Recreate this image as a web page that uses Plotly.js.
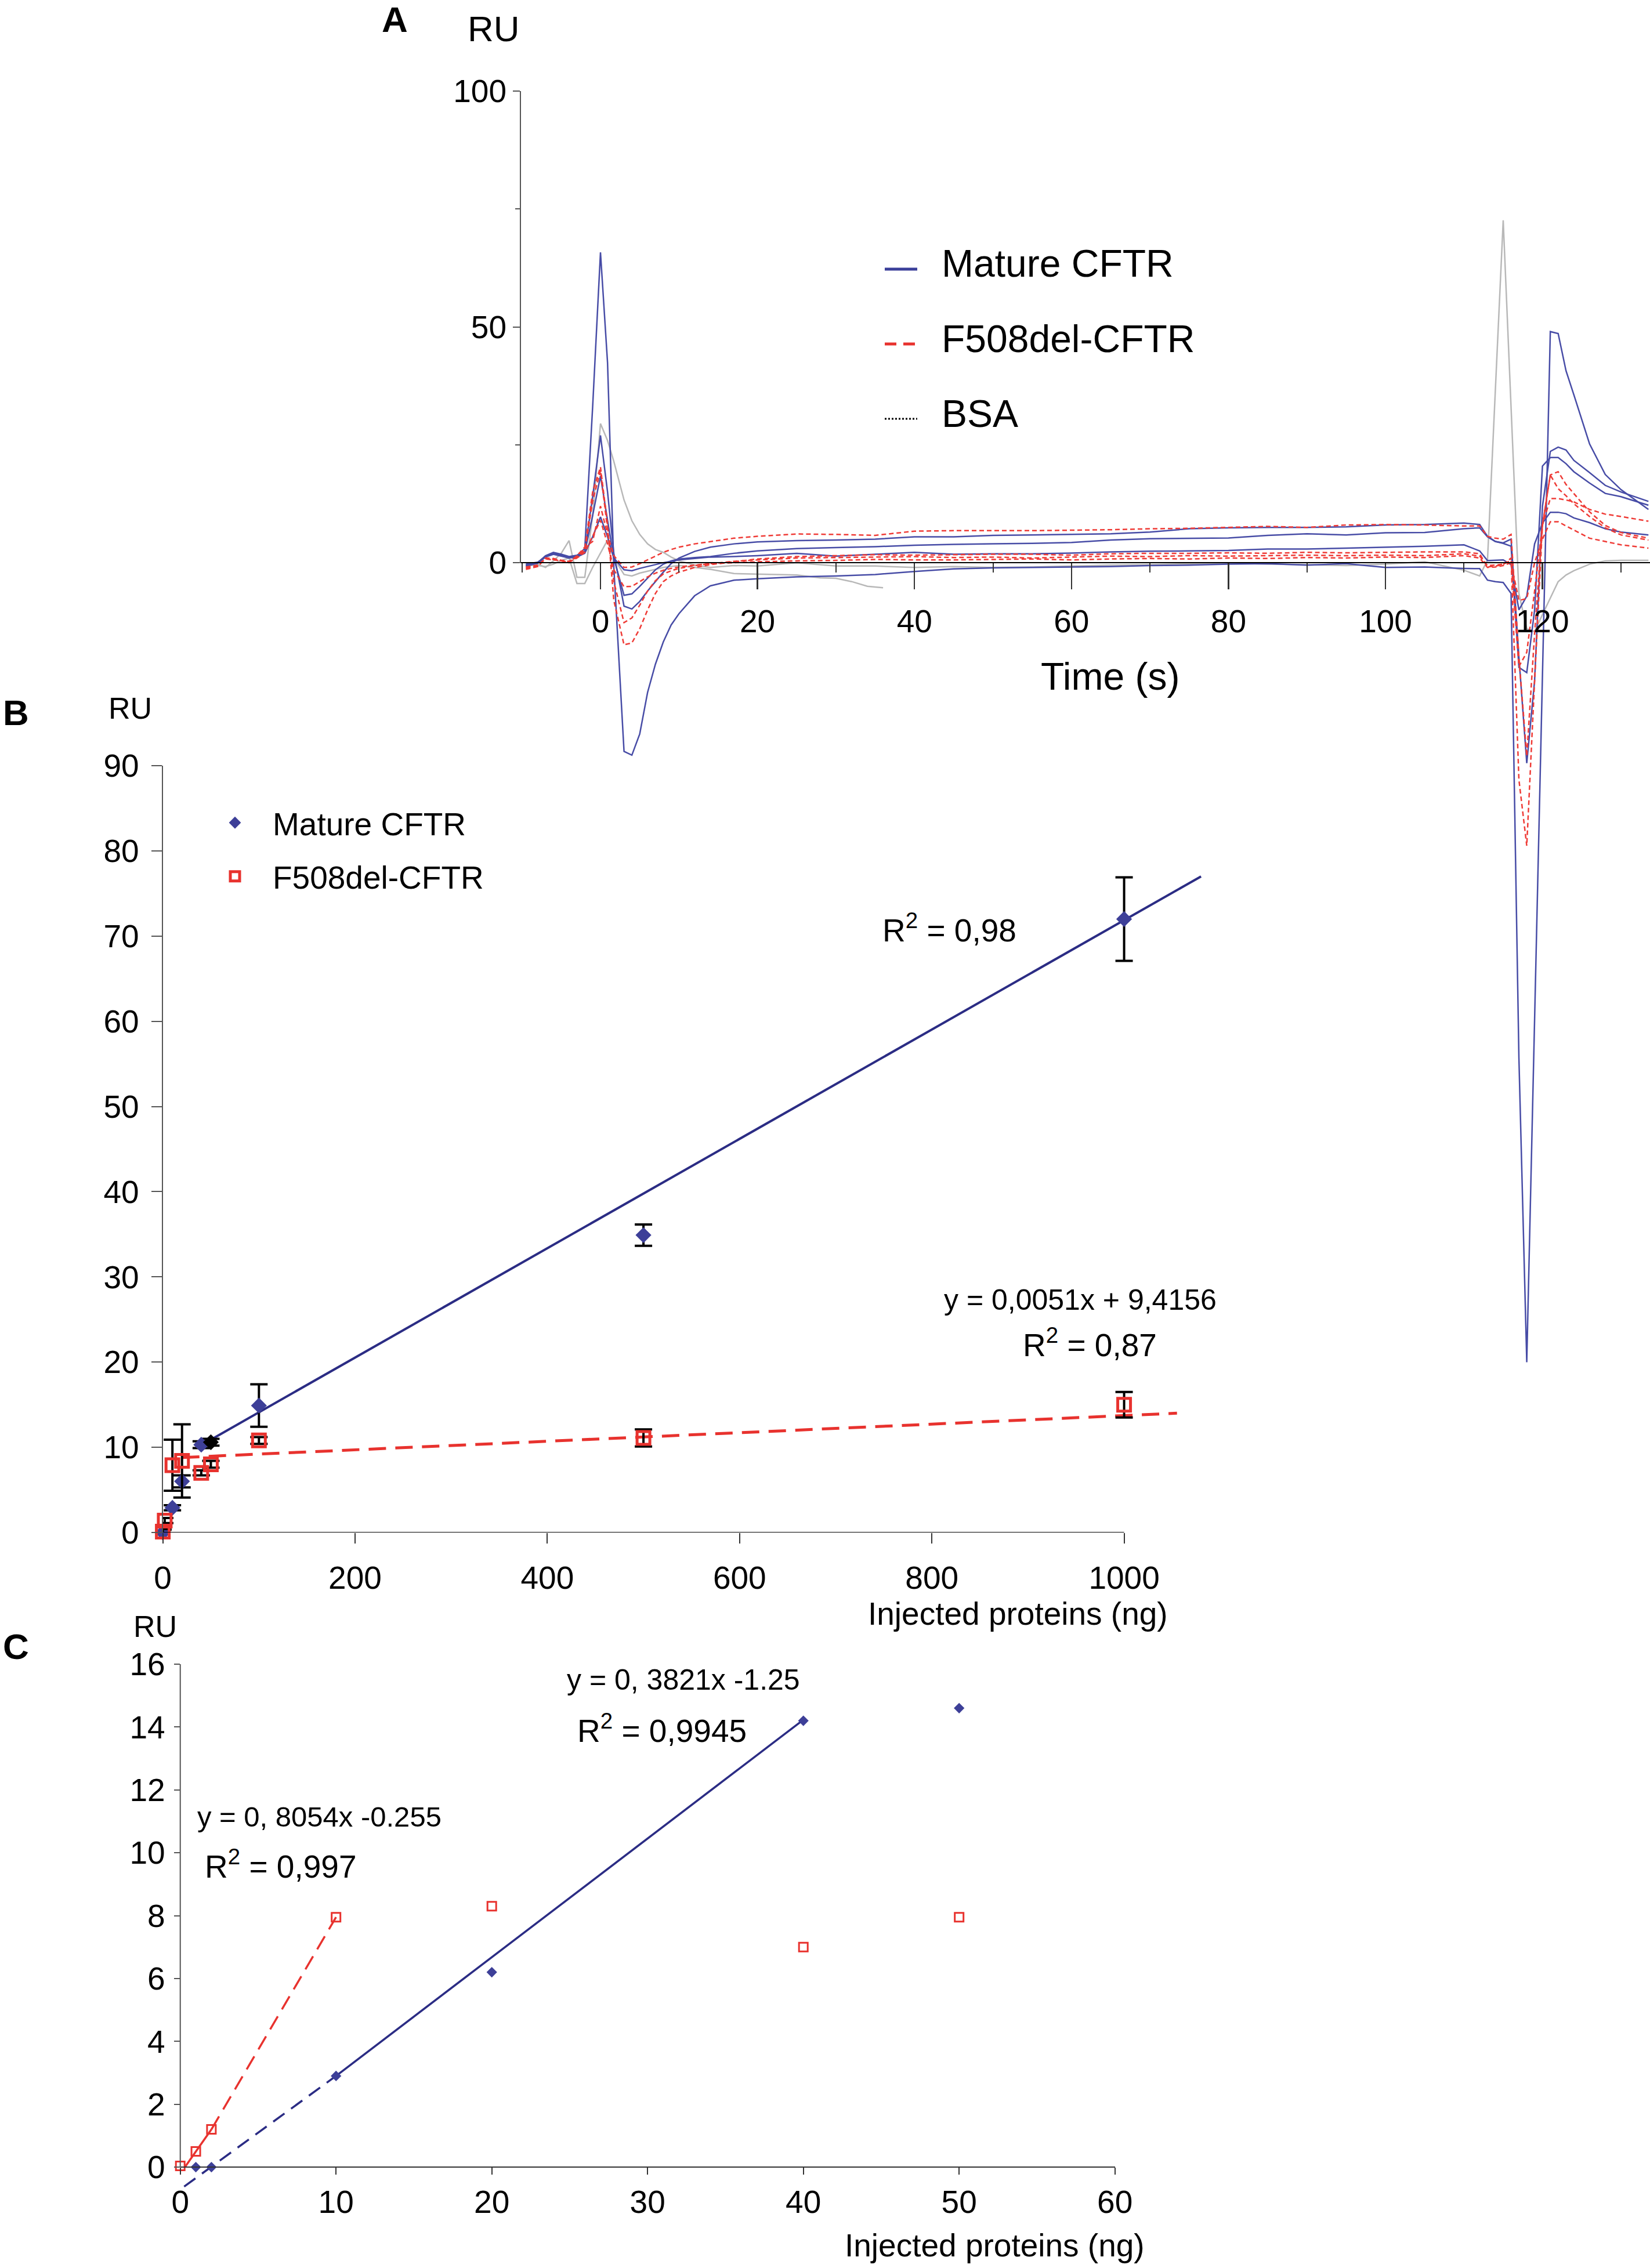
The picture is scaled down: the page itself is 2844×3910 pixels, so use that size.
<!DOCTYPE html>
<html><head><meta charset="utf-8">
<script src="https://cdn.plot.ly/plotly-3.0.1.min.js"></script>
<style>html,body{margin:0;padding:0;background:#fff}#chart{width:2844px;height:3910px}</style>
</head><body><div id="chart"></div>
<script>
// ---------------- Panel A : sensorgrams (RU vs time, s) ----------------
const timeA = [-9.5,-8,-7,-6,-5,-4,-3,-2,-1,0,
  0.9,1.7,3,4,5,6,7,8,9,10,
  12,14,17,20,25,30,35,40,45,50,
  55,60,65,70,75,80,85,90,95,100,
  105,110,112,113,114,115,116,117,118,119,
  120,121,122,123,124,126,128,130,133.5];
const matureA1 = [-0.8,0.0,1.4,2.0,1.6,1.2,1.4,3.0,33,65.8,
  42.4,-1.0,-40.0,-40.8,-36.3,-27.5,-21.5,-16.8,-13.2,-10.8,
  -7.0,-4.9,-3.7,-3.4,-3.0,-2.8,-2.5,-1.85,-1.3,-1.1,
  -1.0,-0.9,-0.8,-0.6,-0.5,-0.3,-0.2,-0.5,-0.2,-1.0,
  -0.9,-1.2,-1.25,-3.7,-4.0,-4.2,-6.5,-105,-169.5,-96.7,
  -23.7,49.0,48.6,40.7,35.6,25.2,18.7,15.5,11.3];
const matureA2 = [-0.5,0.0,1.5,2.2,1.8,1.3,1.6,2.4,14,27.0,
  15,2,-9.2,-9.8,-8.2,-6.0,-4.0,-2.0,-0.2,1.0,
  2.4,3.3,4.0,4.4,4.7,4.8,5.0,5.5,5.5,5.8,
  5.9,6.0,6.15,6.5,7.2,7.4,7.5,7.5,7.6,8.0,
  8.1,8.4,8.1,5.6,4.5,4.2,5.0,-20,-42.5,-25,
  12,23.6,24.5,23.9,21.7,19.1,16.4,15.0,13.0];
const matureA3 = [-0.3,0.1,1.3,1.9,1.5,1.1,1.3,2.2,10,18.4,
  9,1,-6.9,-6.6,-5.0,-3.2,-1.5,-0.3,0.4,0.8,
  1.1,1.3,2.0,2.5,3.0,3.2,3.4,3.7,3.9,4.0,
  4.1,4.3,4.8,5.1,5.2,5.25,5.8,6.15,5.9,6.35,
  6.4,7.2,7.4,5.5,4.5,4.1,3.5,-22.2,-23.3,-10,
  20.5,22.3,22.3,21.0,19.3,16.9,14.7,14.0,12.2];
const matureA4 = [-0.6,-0.1,1.2,1.8,1.4,1.0,1.2,2.0,5.5,9.7,
  5.5,1.0,-1.5,-1.7,-1.2,-0.8,-0.4,0.0,0.3,0.6,
  0.9,1.2,1.3,1.5,2.0,1.4,1.8,2.2,1.8,1.9,
  1.9,2.05,2.3,2.45,2.5,2.6,2.9,2.9,3.1,3.3,
  3.5,3.8,2.5,0.45,0.5,0.6,-0.4,-10,-7.1,4,
  8.4,10.7,10.7,10.4,9.5,8.5,7.2,6.5,5.9];
const f508A1 = [-1.2,-0.8,1.0,0.8,0.4,0.0,1.5,3.3,4.5,12.0,
  6.0,1.5,-1.0,-0.9,-0.2,0.6,1.4,2.2,2.8,3.3,
  4.0,4.5,5.2,5.6,6.1,6.0,5.8,6.7,6.8,6.8,
  6.8,6.9,7.0,7.2,7.3,7.5,7.7,7.5,8.0,8.1,
  8.0,7.8,7.8,5.6,5.2,5.0,6.0,-20,-41,-15,
  8,18.6,19.3,16.6,14.7,10.8,7.9,6.4,5.2];
const f508A2 = [-1.4,-0.8,0.9,0.7,0.5,0.3,1.4,3.0,15,20.3,
  8,-8,-17.4,-17.0,-14.0,-10.0,-6.5,-4.0,-2.8,-2.0,
  -1.0,-0.4,0.2,0.8,1.3,1.5,1.7,1.6,1.7,1.8,
  1.8,1.6,1.9,2.0,2.0,2.1,2.0,2.2,2.1,2.2,
  2.3,2.3,1.9,-0.9,-0.7,-0.4,1.0,-46,-60,-25,
  8,18.6,15.7,14.2,12.5,9.8,7.4,5.9,4.8];
const f508A3 = [-1.0,-0.7,1.0,0.9,0.5,0.2,1.2,2.6,13,19.6,
  7,-4,-12.7,-11.7,-9.0,-6.0,-3.8,-2.4,-1.7,-1.2,
  -0.6,-0.2,0.3,0.6,1.0,1.1,1.2,1.3,1.1,1.2,
  1.0,1.2,1.4,1.3,1.5,1.4,1.5,1.6,1.5,1.6,
  1.5,1.9,1.4,-0.6,-0.5,-0.3,0.5,-22,-19,-6,
  8,13.6,13.6,13.3,12.9,11.3,10.3,9.8,8.8];
const f508A4 = [-0.9,-0.5,0.8,0.6,0.4,0.1,1.0,2.2,5.5,9.0,
  4,-1.5,-5.1,-5.0,-4.0,-3.0,-2.2,-1.6,-1.2,-0.9,
  -0.5,-0.2,0.0,0.2,0.4,0.5,0.7,0.6,0.6,0.7,
  0.8,0.6,0.8,0.9,0.8,1.0,0.9,1.1,1.0,1.2,
  1.1,1.5,1.0,-1.0,-0.9,-0.6,0.0,-8,-7.6,0,
  5,8.7,8.7,7.8,6.9,5.2,4.5,3.8,3.1];
const bsaA1 = [-0.3,-0.3,-1.0,0.4,2.0,4.7,-3.1,-3.1,10,29.5,
  25.9,21.5,13.3,8.9,6.0,4.0,2.8,2.2,1.2,0.4,
  -0.5,-1.0,-0.6,-0.7,0.0,-0.7,-0.7,-1.0,-0.8,-1.0,
  -0.9,-0.7,-0.5,-0.4,-0.2,0.0,-0.3,-0.4,-0.6,-0.3,
  0.2,-1.6,-2.8,0.6,36.6,72.6,33,-6.5,-14,-14.6,
  -11,-7.5,-4.0,-2.6,-1.7,-0.3,0.4,0.5,0.5];
const timeBsaA2 = [-9.5,-8,-7,-6,-5,-4,-3,-2,-1,0,0.9,1.7,3,4,5,6,8,10,12,14,17,20,25,28,30,32,34,36];
const bsaA2 = [-0.5,-0.6,-0.8,-0.3,0.5,1.0,-4.4,-4.4,-1.0,2.0,4.8,1.0,-2.5,-2.8,-2.2,-1.8,-1.0,-0.6,-1.0,-1.4,-2.3,-2.4,-2.6,-3.2,-3.3,-4.0,-5.0,-5.3];
const ticksA_x = [0,20,40,60,80,100,120];
const ticksA_y = [0,50,100];
const minorTicksA_y = [25,75];

// ---------------- Panel B : RU vs injected proteins (ng) ----------------
const doseB_mature = [0,10,20,40,50,100,500,1000];
const ruB_mature   = [0,2.9,6.0,10.3,10.6,14.9,34.9,72.0];
const errB_mature  = [0.3,0.3,0.7,0.4,0.4,2.5,1.25,4.9];
const doseB_f508   = [0,2,10,20,40,50,100,500,1000];
const ruB_f508     = [0.1,1.4,7.9,8.4,7.0,8.0,10.8,11.1,15.0];
const errB_f508    = [0.3,0.3,3.0,4.3,0.3,0.4,0.4,1.0,1.5];
const trendB_matureX = [50,1080], trendB_matureY = [10.9,77.0];
const trendB_f508X   = [20,1055], trendB_f508Y   = [8.8,14.0];
const ticksB_x = [0,200,400,600,800,1000];

// ---------------- Panel C : low-dose range ----------------
const doseC_mature = [1,2,10,20,40,50];
const ruC_mature   = [0.0,0.0,2.9,6.2,14.2,14.6];
const doseC_f508   = [0,1,2,10,20,40,50];
const ruC_f508     = [0.04,0.5,1.2,7.95,8.3,7.0,7.95];
const trendC_matureDashX = [0.25,10], trendC_matureDashY = [-0.62,2.9];
const trendC_matureSolidX = [10,40], trendC_matureSolidY = [2.9,14.23];
const trendC_f508SolidX = [0.3,2], trendC_f508SolidY = [0.0,1.2];
const trendC_f508DashX = [2,10], trendC_f508DashY = [1.2,7.95];
const ticksC_y = [0,2,4,6,8,10,12,14,16];

// ---------------- styling helpers ----------------
const W = 2844, H = 3910;
const px = v => v / W;
const py = v => 1 - v / H;
const FONT = 'Liberation Sans, Arial, Helvetica, sans-serif';
const blueA = '#474ca6', redA = '#ef3b36', greyA = '#b8b8b8';
const blueB = '#2b2c84', blueMark = '#3d3f98', redB = '#e8322e';

const traces = [];
// Panel A traces
[[timeA,bsaA1],[timeBsaA2,bsaA2]].forEach(([t,v]) => traces.push({
  x:t, y:v, xaxis:'x', yaxis:'y', mode:'lines', showlegend:false,
  line:{color:greyA, width:2.5}, hoverinfo:'skip'}));
[matureA1,matureA2,matureA3,matureA4].forEach(v => traces.push({
  x:timeA, y:v, xaxis:'x', yaxis:'y', mode:'lines', showlegend:false,
  line:{color:blueA, width:2.5}, hoverinfo:'skip'}));
[f508A1,f508A2,f508A3,f508A4].forEach(v => traces.push({
  x:timeA, y:v, xaxis:'x', yaxis:'y', mode:'lines', showlegend:false,
  line:{color:redA, width:2.5, dash:'8px,5px'}, hoverinfo:'skip'}));

// Panel B traces
traces.push({x:trendB_matureX, y:trendB_matureY, xaxis:'x2', yaxis:'y2', mode:'lines',
  showlegend:false, line:{color:blueB, width:4}});
traces.push({x:trendB_f508X, y:trendB_f508Y, xaxis:'x2', yaxis:'y2', mode:'lines',
  showlegend:false, line:{color:redB, width:5, dash:'30px,16px'}});
traces.push({x:doseB_mature, y:ruB_mature, xaxis:'x2', yaxis:'y2', mode:'markers',
  name:'Mature CFTR', legendgroup:'m', cliponaxis:false,
  marker:{symbol:'diamond', size:21, color:doseB_mature.map(d => d === 50 ? '#000000' : blueMark)},
  error_y:{type:'data', array:errB_mature, visible:true, color:'#000', thickness:4, width:15}});
traces.push({x:doseB_f508, y:ruB_f508, xaxis:'x2', yaxis:'y2', mode:'markers',
  name:'F508del-CFTR', legendgroup:'f', cliponaxis:false,
  marker:{symbol:'square-open', size:22, color:redB, line:{color:redB, width:5}},
  error_y:{type:'data', array:errB_f508, visible:true, color:'#000', thickness:4, width:15}});

// Panel C traces
traces.push({x:trendC_matureDashX, y:trendC_matureDashY, xaxis:'x3', yaxis:'y3', mode:'lines',
  showlegend:false, line:{color:blueB, width:3.5, dash:'24px,14px'}});
traces.push({x:trendC_matureSolidX, y:trendC_matureSolidY, xaxis:'x3', yaxis:'y3', mode:'lines',
  showlegend:false, line:{color:blueB, width:3.5}});
traces.push({x:trendC_f508SolidX, y:trendC_f508SolidY, xaxis:'x3', yaxis:'y3', mode:'lines',
  showlegend:false, line:{color:redB, width:3.5}});
traces.push({x:trendC_f508DashX, y:trendC_f508DashY, xaxis:'x3', yaxis:'y3', mode:'lines',
  showlegend:false, line:{color:redB, width:3.5, dash:'26px,14px'}});
traces.push({x:doseC_mature, y:ruC_mature, xaxis:'x3', yaxis:'y3', mode:'markers',
  showlegend:false, cliponaxis:false, marker:{symbol:'diamond', size:14, color:blueMark}});
traces.push({x:doseC_f508, y:ruC_f508, xaxis:'x3', yaxis:'y3', mode:'markers',
  showlegend:false, cliponaxis:false,
  marker:{symbol:'square-open', size:15, color:redB, line:{color:redB, width:3}}});

const tf = s => ({family:FONT, size:s, color:'#000'});
const ann = (text, x, y, size, opts) => Object.assign({text, x:px(x), y:py(y), xref:'paper', yref:'paper',
  showarrow:false, xanchor:'center', yanchor:'middle', font:tf(size)}, opts || {});

const layout = {
  width:W, height:H, margin:{l:0,r:0,t:0,b:0},
  paper_bgcolor:'#ffffff', plot_bgcolor:'rgba(0,0,0,0)',
  font:{family:FONT, color:'#000'}, showlegend:true,
  legend:{x:px(340), y:py(1376), xanchor:'left', yanchor:'top', font:tf(55),
    itemwidth:120, tracegroupgap:18, traceorder:'grouped', bgcolor:'rgba(0,0,0,0)'},
  // Panel A
  xaxis:{domain:[px(897),1], range:[-10.2,133.7], anchor:'free', position:py(970),
    showline:true, linecolor:'#000', linewidth:2, zeroline:false, showgrid:false,
    tickvals:ticksA_x, ticks:'outside', ticklen:45, tickwidth:2.5, tickcolor:'#333',
    minor:{dtick:10, tick0:0, ticks:'outside', ticklen:16, tickwidth:2, tickcolor:'#333'},
    tickfont:tf(55), ticklabelstandoff:8},
  yaxis:{domain:[py(2372), py(157)], range:[-172.4,100], anchor:'x',
    showline:false, zeroline:false, showgrid:false,
    tickvals:ticksA_y, ticks:'outside', ticklen:12, tickwidth:2, tickcolor:'#555',
    minor:{tickmode:'array', tickvals:minorTicksA_y, ticks:'outside', ticklen:8, tickwidth:2, tickcolor:'#555'},
    tickfont:tf(55)},
  // Panel B
  xaxis2:{domain:[px(280.6), px(2086.7)], range:[0,1090], anchor:'y2',
    showline:false, zeroline:false, showgrid:false,
    tickvals:ticksB_x, ticks:'outside', ticklen:18, tickwidth:2, tickcolor:'#333',
    tickfont:tf(55), ticklabelstandoff:12},
  yaxis2:{domain:[py(2642), py(1320)], range:[0,90], anchor:'x2',
    showline:true, linecolor:'#555', linewidth:2, zeroline:false, showgrid:false,
    dtick:10, tick0:0, ticks:'outside', ticklen:18, tickwidth:2, tickcolor:'#555',
    tickfont:tf(55), ticklabelstandoff:10},
  // Panel C
  xaxis3:{domain:[px(310.7), px(1921.7)], range:[0,60], anchor:'free', position:py(3736),
    showline:true, linecolor:'#333', linewidth:2, zeroline:false, showgrid:false,
    dtick:10, tick0:0, ticks:'outside', ticklen:12, tickwidth:2, tickcolor:'#333',
    tickfont:tf(55), ticklabelstandoff:0},
  yaxis3:{domain:[py(3779.4), py(2869)], range:[-0.8,16], anchor:'x3',
    showline:false, zeroline:false, showgrid:false,
    tickvals:ticksC_y, ticks:'outside', ticklen:10, tickwidth:2, tickcolor:'#555',
    tickfont:tf(55), ticklabelstandoff:4},
  shapes:[
    {type:'line', xref:'x domain', yref:'y', x0:0, x1:0, y0:0, y1:100, line:{color:'#555', width:2}},
    {type:'line', xref:'x2', yref:'y2', x0:0, x1:1000, y0:0, y1:0, line:{color:'#000', width:2}},
    {type:'line', xref:'x3 domain', yref:'y3', x0:0, x1:0, y0:0, y1:16, line:{color:'#555', width:2}},
    // Panel A legend samples
    {type:'line', xref:'paper', yref:'paper', x0:px(1525), x1:px(1581), y0:py(464), y1:py(464), line:{color:'#3a3f9a', width:5}},
    {type:'line', xref:'paper', yref:'paper', x0:px(1525), x1:px(1581), y0:py(593), y1:py(593), line:{color:'#e8322e', width:5, dash:'20px,12px'}},
    {type:'line', xref:'paper', yref:'paper', x0:px(1525), x1:px(1581), y0:py(722), y1:py(722), line:{color:'#000', width:3, dash:'dot'}}
  ],
  annotations:[
    ann('<b>A</b>', 680, 34, 62),
    ann('RU', 851, 50, 62),
    ann('Time (s)', 1914, 1166, 66),
    ann('Mature CFTR', 1621, 454, 66, {xanchor:'left'}),
    ann('F508del-CFTR', 1621, 584, 66, {xanchor:'left'}),
    ann('BSA', 1621, 713, 66, {xanchor:'left'}),
    ann('<b>B</b>', 27, 1228, 62),
    ann('RU', 224, 1221, 52),
    ann('R<sup>2</sup> = 0,98', 1637, 1600, 55),
    ann('y = 0,0051x + 9,4156', 1862, 2241, 50),
    ann('R<sup>2</sup> = 0,87', 1878, 2315, 55),
    ann('Injected proteins (ng)', 1755, 2782, 55),
    ann('<b>C</b>', 27, 2838, 62),
    ann('RU', 267, 2804, 52),
    ann('y = 0, 3821x -1.25', 1178, 2896, 50),
    ann('R<sup>2</sup> = 0,9945', 1141, 2980, 55),
    ann('y = 0, 8054x -0.255', 550, 3132, 49),
    ann('R<sup>2</sup> = 0,997', 483, 3214, 55),
    ann('Injected proteins (ng)', 1715, 3871, 55)
  ]
};

Plotly.newPlot('chart', traces, layout, {displayModeBar:false, staticPlot:true});
</script>
</body></html>
